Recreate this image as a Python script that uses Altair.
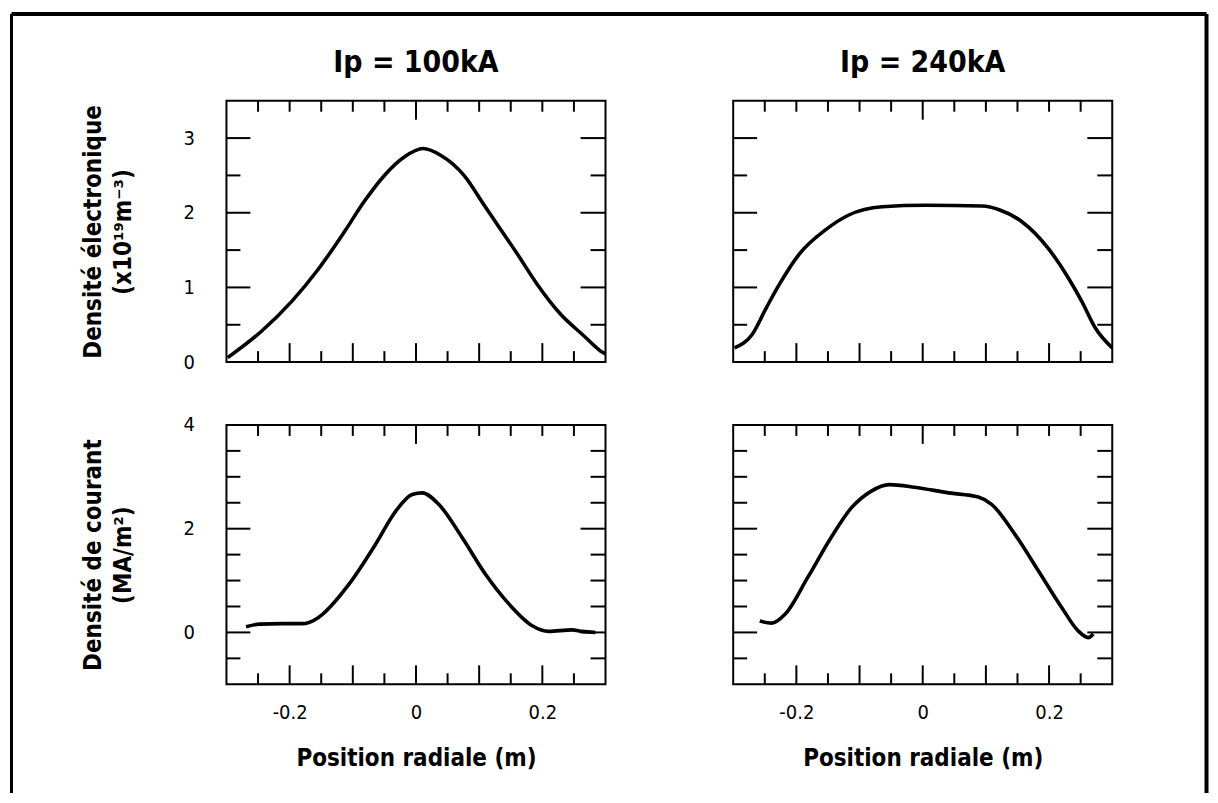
import altair as alt
import pandas as pd

FONT = "Liberation Sans Narrow, DejaVu Sans Condensed, Arial Narrow, sans-serif"

# ---- data ----
r_ne_100 = [-0.298, -0.245, -0.197, -0.155, -0.113, -0.082, -0.050, -0.018, 0.011, 0.039,
            0.076, 0.108, 0.161, 0.192, 0.229, 0.266, 0.292, 0.300]
ne_100 = [0.06, 0.41, 0.81, 1.24, 1.75, 2.15, 2.50, 2.75, 2.86, 2.77,
          2.50, 2.10, 1.44, 1.04, 0.64, 0.35, 0.15, 0.11]

r_ne_240 = [-0.298, -0.270, -0.248, -0.227, -0.196, -0.154, -0.117, -0.064, 0.004, 0.094,
            0.121, 0.157, 0.199, 0.231, 0.252, 0.273, 0.300]
ne_240 = [0.19, 0.37, 0.72, 1.04, 1.44, 1.77, 1.97, 2.08, 2.10, 2.09,
          2.04, 1.88, 1.52, 1.12, 0.81, 0.46, 0.19]

r_j_100 = [-0.269, -0.248, -0.211, -0.180, -0.158, -0.148, -0.106, -0.064, -0.032, -0.006,
           0.010, 0.036, 0.073, 0.110, 0.147, 0.184, 0.210, 0.247, 0.263, 0.284]
j_100 = [0.11, 0.16, 0.17, 0.17, 0.26, 0.35, 0.93, 1.70, 2.34, 2.66,
         2.69, 2.47, 1.83, 1.12, 0.55, 0.13, 0.02, 0.05, 0.02, 0.0]

r_j_240 = [-0.258, -0.239, -0.218, -0.182, -0.145, -0.113, -0.082, -0.053, -0.013, 0.041,
           0.088, 0.109, 0.146, 0.183, 0.220, 0.246, 0.262, 0.270]
j_240 = [0.22, 0.18, 0.35, 1.06, 1.83, 2.40, 2.72, 2.85, 2.80, 2.69,
         2.61, 2.47, 1.89, 1.19, 0.48, 0.03, -0.10, -0.03]

titles = ["Ip = 100kA", "Ip = 240kA"]
x_title = "Position radiale (m)"
ne_title = ["Densité électronique", "(x10¹⁹m⁻³)"]
j_title = ["Densité de courant", "(MA/m²)"]

x_domain = [-0.3, 0.3]
ne_domain = [0, 3.5]
j_domain = [-1, 4]

x_labels = [-0.2, 0, 0.2]
ne_labels = [0, 1, 2, 3]
j_labels = [0, 2, 4]

x_bottom_major = [-0.2, -0.1, 0, 0.1, 0.2]
x_bottom_minor = [-0.25, -0.15, -0.05, 0.05, 0.15, 0.25]
x_top_major = [0]
x_top_minor = [-0.25, -0.2, -0.15, -0.1, -0.05, 0.05, 0.1, 0.15, 0.2, 0.25]
ne_major = [1, 2, 3]
ne_minor = [0.5, 1.5, 2.5]
j_major = [0, 2]
j_minor = [-0.5, 0.5, 1, 1.5, 2.5, 3, 3.5]

W = 380
H_TOP = 262
H_BOT = 260


def panel(r, v, ydom, H, ymaj, ymin, ylabels=None, ytitle=None, xlabels=False,
          title=None, border=False):
    xs = alt.Scale(domain=x_domain, nice=False, zero=False)
    ys = alt.Scale(domain=ydom, nice=False, zero=False)
    if xlabels:
        xaxis = alt.Axis(values=x_labels, ticks=False, domain=False, grid=False,
                         labelExpr="toString(datum.value)", labelFontSize=20,
                         labelFont=FONT, labelPadding=18, labelColor="black",
                         title=x_title, titleFontSize=24, titleFont=FONT,
                         titleFontWeight="bold", titlePadding=24, titleColor="black")
    else:
        xaxis = None
    if ylabels is not None:
        yaxis = alt.Axis(values=ylabels, ticks=False, domain=False, grid=False,
                         labelExpr="toString(datum.value)", labelFontSize=20,
                         labelFont=FONT, labelPadding=32, labelColor="black",
                         title=ytitle, titleFontSize=24, titleFont=FONT,
                         titleFontWeight="bold", titlePadding=48, titleColor="black",
                         titleLineHeight=30)
    else:
        yaxis = None

    df = pd.DataFrame({"r": r, "v": v})
    line = alt.Chart(df).mark_line(color="black", strokeWidth=3.6,
                                   interpolate="monotone").encode(
        x=alt.X("r:Q", scale=xs, axis=xaxis),
        y=alt.Y("v:Q", scale=ys, axis=yaxis),
    )
    layers = [line]

    def xt(vals, length, bottom):
        d = pd.DataFrame({"t": vals})
        y0 = H if bottom else 0
        y1 = H - length if bottom else length
        return alt.Chart(d).mark_rule(color="black", strokeWidth=2).encode(
            x=alt.X("t:Q", scale=xs, axis=xaxis), y=alt.value(y0), y2=alt.value(y1))

    def yt(vals, length, left):
        d = pd.DataFrame({"t": vals})
        x0 = 0 if left else W
        x1 = length if left else W - length
        return alt.Chart(d).mark_rule(color="black", strokeWidth=2).encode(
            y=alt.Y("t:Q", scale=ys, axis=yaxis), x=alt.value(x0), x2=alt.value(x1))

    layers += [
        xt(x_bottom_major, 19, True), xt(x_bottom_minor, 11, True),
        xt(x_top_major, 19, False), xt(x_top_minor, 11, False),
        yt(ymaj, 24, True), yt(ymin, 14, True),
        yt(ymaj, 25, False), yt(ymin, 15, False),
    ]

    if border:
        bd = pd.DataFrame({"k": [0]})
        top = -412
        bottom = 369
        left = -215.5
        right = 982.5
        layers += [
            alt.Chart(bd).mark_rule(color="black", strokeWidth=4).encode(
                x=alt.value(left), x2=alt.value(right), y=alt.value(top)),
            alt.Chart(bd).mark_rule(color="black", strokeWidth=3).encode(
                x=alt.value(left), y=alt.value(top), y2=alt.value(bottom)),
            alt.Chart(bd).mark_rule(color="black", strokeWidth=4).encode(
                x=alt.value(right), y=alt.value(top), y2=alt.value(bottom)),
        ]

    ch = alt.layer(*layers).properties(width=W, height=H)
    if title:
        ch = ch.properties(title=alt.TitleParams(
            text=title, fontSize=30, font=FONT, fontWeight="bold", color="black",
            anchor="middle", frame="group", offset=22))
    return ch


p1 = panel(r_ne_100, ne_100, ne_domain, H_TOP, ne_major, ne_minor,
           ylabels=ne_labels, ytitle=ne_title, title=titles[0])
p2 = panel(r_ne_240, ne_240, ne_domain, H_TOP, ne_major, ne_minor, title=titles[1])
p3 = panel(r_j_100, j_100, j_domain, H_BOT, j_major, j_minor,
           ylabels=j_labels, ytitle=j_title, xlabels=True, border=True)
p4 = panel(r_j_240, j_240, j_domain, H_BOT, j_major, j_minor, xlabels=True)

chart = alt.concat(p1, p2, p3, p4, columns=2,
                   spacing={"row": 63, "column": 128},
                   bounds="flush").properties(
    padding={"left": 0, "top": 2, "right": 0, "bottom": 0},
    background="white",
).configure_view(stroke="black", strokeWidth=2)

chart.save("out.html", embed_options={"renderer": "svg", "actions": False})
